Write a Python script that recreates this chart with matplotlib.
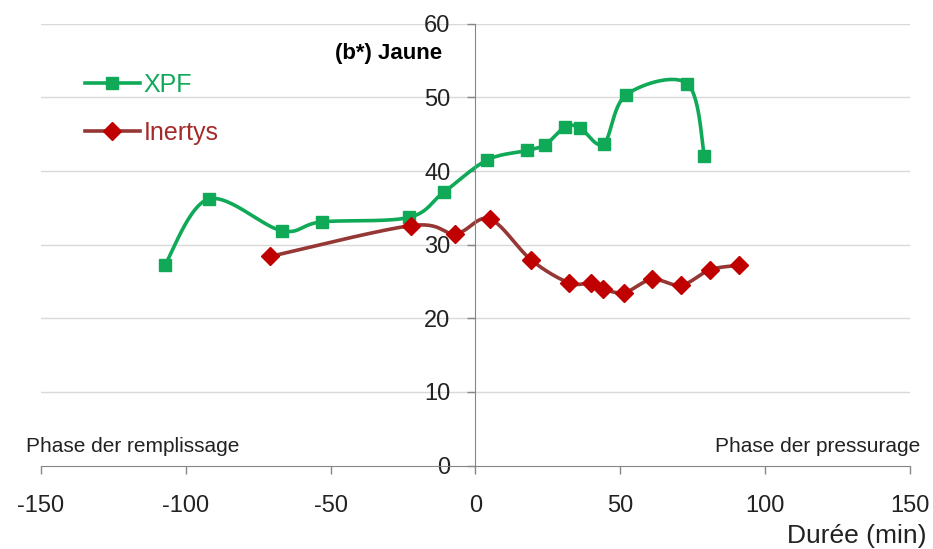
import numpy as np
import matplotlib.pyplot as plt

plt.rcParams['font.family'] = ['Liberation Sans', 'DejaVu Sans']
plt.rcParams['axes.unicode_minus'] = False

# Données
xpf_t = [-107.2, -92.1, -66.9, -53.1, -23.1, -11.0, 4.0, 17.8, 24.1, 31.0, 36.0, 44.2, 52.1, 73.0, 79.0]
xpf_b = [27.2, 36.2, 31.9, 33.1, 33.7, 37.1, 41.5, 42.8, 43.6, 46.0, 45.9, 43.7, 50.4, 51.9, 42.0]

inertys_t = [-70.9, -22.1, -6.9, 4.9, 19.3, 32.4, 39.9, 44.1, 51.4, 60.9, 71.0, 81.0, 91.0]
inertys_b = [28.4, 32.6, 31.5, 33.5, 27.9, 24.8, 24.8, 24.0, 23.5, 25.3, 24.5, 26.6, 27.2]

x_ticks = [-150, -100, -50, 0, 50, 100, 150]
y_ticks = [0, 10, 20, 30, 40, 50, 60]


# Lissage type Excel (Bezier / Catmull-Rom)
def lisser(x, y, n=30):
    p = np.column_stack([x, y]).astype(float)
    p = np.vstack([p[0], p, p[-1]])
    out = []
    for i in range(1, len(p) - 2):
        p0, p1, p2, p3 = p[i - 1], p[i], p[i + 1], p[i + 2]
        c1 = p1 + (p2 - p0) / 6
        c2 = p2 - (p3 - p1) / 6
        t = np.linspace(0, 1, n)[:, None]
        seg = (1 - t)**3 * p1 + 3 * (1 - t)**2 * t * c1 + 3 * (1 - t) * t**2 * c2 + t**3 * p2
        out.append(seg)
    out = np.vstack(out)
    return out[:, 0], out[:, 1]


vert = '#0fa958'
rouge_ligne = '#953735'
rouge_marq = '#c00000'
gris = '#868686'
texte = '#222222'

fig = plt.figure(figsize=(9.33, 5.49), dpi=100)
ax = fig.add_axes([0.0436, 0.152, 0.932, 0.8045])

ax.set_xlim(-150, 150)
ax.set_ylim(0, 60)

for v in y_ticks[1:]:
    ax.axhline(v, color='#d9d9d9', lw=1, zorder=0)

xs, ys = lisser(xpf_t, xpf_b)
ax.plot(xs, ys, color=vert, lw=2.6, zorder=2)
ax.plot(xpf_t, xpf_b, ls='none', marker='s', ms=8.5, color=vert, zorder=3)

xs, ys = lisser(inertys_t, inertys_b)
ax.plot(xs, ys, color=rouge_ligne, lw=2.6, zorder=2)
ax.plot(inertys_t, inertys_b, ls='none', marker='D', ms=9, color=rouge_marq, zorder=3)

# Légende
h1, = ax.plot([], [], color=vert, lw=2.6, marker='s', ms=8.5)
h2, = ax.plot([], [], color=rouge_ligne, lw=2.6, marker='D', ms=9, mfc=rouge_marq, mec=rouge_marq)
leg = ax.legend([h1, h2], ['XPF', 'Inertys'], loc='upper left', bbox_to_anchor=(0.025, 0.94),
                frameon=False, fontsize=18, handlelength=2.2, handletextpad=0.15,
                labelspacing=0.95, labelcolor=[vert, '#a52a2a'])

# Axes
for s in ['top', 'right']:
    ax.spines[s].set_visible(False)
ax.spines['left'].set_position(('data', 0))
ax.spines['left'].set_color(gris)
ax.spines['bottom'].set_color(gris)

ax.set_xticks(x_ticks)
ax.set_yticks(y_ticks)
ax.tick_params(axis='x', direction='out', length=6, width=1, color=gris, pad=15,
               labelsize=17, labelcolor=texte)
ax.tick_params(axis='y', direction='out', length=6, width=1, color=gris, pad=12,
               labelsize=17, labelcolor=texte)

ax.text(-11.5, 56, '(b*) Jaune', fontsize=16, fontweight='bold', ha='right', va='center')
ax.text(-155, 2.6, 'Phase der remplissage', fontsize=15, ha='left', va='center', color=texte)
ax.text(153.5, 2.6, 'Phase der pressurage', fontsize=15, ha='right', va='center', color=texte)
fig.text(0.993, 0.023, 'Durée (min)', fontsize=19, ha='right', va='center', color=texte)

fig.savefig('out.png', dpi=100)
